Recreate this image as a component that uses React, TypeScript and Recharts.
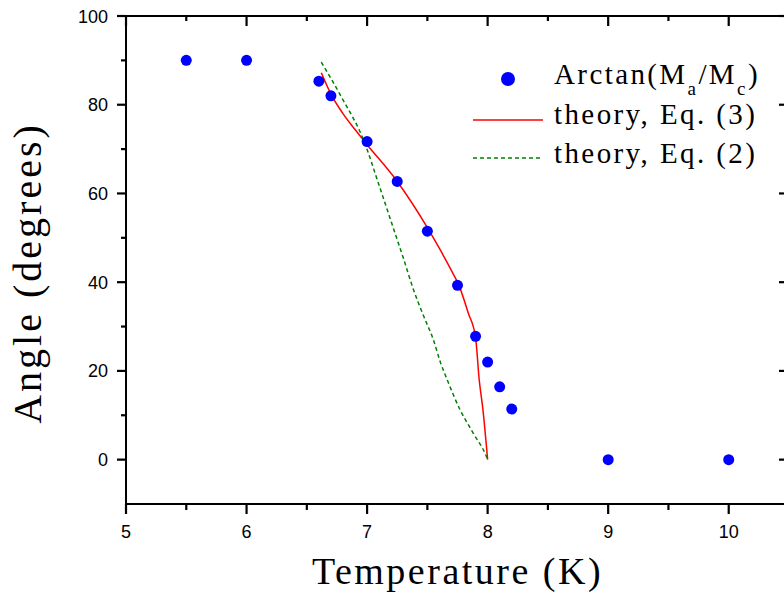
import React from "react";
import {
  ComposedChart,
  Scatter,
  Line,
  XAxis,
  YAxis,
  Legend,
} from "recharts";

// measured points: Arctan(Ma/Mc)
const tempK = [5.5, 6, 6.6, 6.7, 7, 7.25, 7.5, 7.75, 7.9, 8, 8.1, 8.2, 9, 10];
const angleDeg = [90, 90, 85.3, 82, 71.7, 62.7, 51.5, 39.3, 27.8, 22, 16.4, 11.4, 0, 0];

// theory, Eq. (3)
const eq3T = [6.62, 6.7, 6.8, 6.9, 7.0, 7.25, 7.5, 7.6, 7.7, 7.76, 7.84, 7.9, 7.93, 7.96, 8.0];
const eq3A = [87.2, 82.4, 78.0, 74.4, 71.0, 62.7, 52.3, 47.6, 42.6, 39.4, 33.0, 27.5, 18.0, 11.5, 0];

// theory, Eq. (2)
const eq2T = [6.62, 6.8, 6.97, 7.1, 7.22, 7.3, 7.385, 7.47, 7.55, 7.61, 7.66, 7.77, 7.88, 7.99, 8.0];
const eq2A = [89.6, 81.1, 72.1, 61.8, 52.0, 45.5, 38.3, 32.3, 27.0, 21.8, 18.3, 11.3, 6.0, 0.7, 0];

const xMajor = [5, 6, 7, 8, 9, 10];
const xMinor = [5.5, 6.5, 7.5, 8.5, 9.5];
const yMajor = [0, 20, 40, 60, 80, 100];
const yMinor = [10, 30, 50, 70, 90];

const points = tempK.map((t, i) => ({ x: t, y: angleDeg[i] }));
const eq3 = eq3T.map((t, i) => ({ x: t, y: eq3A[i] }));
const eq2 = eq2T.map((t, i) => ({ x: t, y: eq2A[i] }));

const xTicks = [...xMajor, ...xMinor].sort((a, b) => a - b);
const yTicks = [...yMajor, ...yMinor].sort((a, b) => a - b);

const SANS = "'Liberation Sans', Arial, sans-serif";
const SERIF = "'Liberation Serif', 'Times New Roman', serif";

const X_DOMAIN: [number, number] = [5, 10.5];
const Y_DOMAIN: [number, number] = [-10, 100];
const axisStroke = { stroke: "#000", strokeWidth: 2 };
// axes need a non-zero size to be drawn; keep it tiny so they sit on the frame
const THIN = 0.01;
const TICK_W = 2.2;

// tick marks are drawn as filled rects, labels only on major ticks
const BottomTick = (props: any) => {
  const { x, y, payload } = props;
  const major = xMajor.includes(payload.value);
  const len = major ? 10 : 6;
  return (
    <g>
      <rect x={x - TICK_W / 2} y={y} width={TICK_W} height={len} fill="#000" />
      {major && (
        <text x={x} y={y + 34} textAnchor="middle" fontFamily={SANS} fontSize={18} fill="#000">
          {payload.value}
        </text>
      )}
    </g>
  );
};

const TopTick = (props: any) => {
  const { x, y, payload } = props;
  const len = xMajor.includes(payload.value) ? 10 : 5;
  return <rect x={x - TICK_W / 2} y={y} width={TICK_W} height={len} fill="#000" />;
};

const LeftTick = (props: any) => {
  const { x, y, payload } = props;
  const major = yMajor.includes(payload.value);
  const len = major ? 9 : 5;
  return (
    <g>
      <rect x={x - len} y={y - TICK_W / 2} width={len} height={TICK_W} fill="#000" />
      {major && (
        <text x={x - 18} y={y + 6.5} textAnchor="end" fontFamily={SANS} fontSize={18} fill="#000">
          {payload.value}
        </text>
      )}
    </g>
  );
};

const RightTick = (props: any) => {
  const { x, y, payload } = props;
  const len = yMajor.includes(payload.value) ? 10 : 5;
  return <rect x={x - len} y={y - TICK_W / 2} width={len} height={TICK_W} fill="#000" />;
};

const Dot = (props: any) => <circle cx={props.cx} cy={props.cy} r={5.5} fill="#0000ff" />;

const legendText = { fontFamily: SERIF, fontSize: 29, letterSpacing: 2.4, fill: "#000" };

const LegendBox = () => (
  <svg width={320} height={130} style={{ display: "block" }}>
    <circle cx={48} cy={29} r={7} fill="#0000ff" />
    <text x={94} y={34} {...legendText}>
      Arctan(M
      <tspan dy={11} fontSize={19}>a</tspan>
      <tspan dy={-11}>/M</tspan>
      <tspan dy={11} fontSize={19}>c</tspan>
      <tspan dy={-11}>)</tspan>
    </text>
    <line x1={13} x2={83} y1={70} y2={70} stroke="#ff0000" strokeWidth={1.5} />
    <text x={94} y={74} {...legendText}>theory, Eq. (3)</text>
    <line x1={13} x2={83} y1={108} y2={108} stroke="#008000" strokeWidth={1.5} strokeDasharray="4 3" />
    <text x={94} y={113} {...legendText}>theory, Eq. (2)</text>
  </svg>
);

const XLabel = (props: any) => {
  const { x, y, width } = props.viewBox;
  return (
    <text x={x + width / 2} y={y + 80} textAnchor="middle" fontFamily={SERIF} fontSize={38} letterSpacing={2.5} fill="#000">
      Temperature (K)
    </text>
  );
};

const YLabel = (props: any) => {
  const { y, height } = props.viewBox;
  const cy = y + height / 2 + 13;
  return (
    <text
      x={41}
      y={cy}
      transform={`rotate(-90, 41, ${cy})`}
      textAnchor="middle"
      fontFamily={SERIF}
      fontSize={40}
      letterSpacing={3}
      fill="#000"
    >
      Angle (degrees)
    </text>
  );
};

export default function App() {
  return (
    <div style={{ position: "absolute", left: 0, top: 0, width: 784, height: 599, overflow: "hidden", background: "#fff" }}>
      <ComposedChart width={800} height={599} margin={{ top: 16, right: 11, left: 126, bottom: 95 }}>
        <XAxis xAxisId="b" type="number" dataKey="x" domain={X_DOMAIN} allowDataOverflow ticks={xTicks} interval={0}
          height={THIN} tickSize={0} tickMargin={0} tickLine={false} axisLine={axisStroke}
          tick={BottomTick} label={<XLabel />} />
        <XAxis xAxisId="t" orientation="top" type="number" dataKey="x" domain={X_DOMAIN} allowDataOverflow
          ticks={xTicks} interval={0} height={THIN} tickSize={0} tickMargin={0} tickLine={false}
          axisLine={axisStroke} tick={TopTick} />
        <YAxis yAxisId="l" type="number" dataKey="y" domain={Y_DOMAIN} allowDataOverflow ticks={yTicks} interval={0}
          width={THIN} tickSize={0} tickMargin={0} tickLine={false} axisLine={axisStroke}
          tick={LeftTick} label={<YLabel />} />
        <YAxis yAxisId="r" orientation="right" type="number" dataKey="y" domain={Y_DOMAIN} allowDataOverflow
          ticks={yTicks} interval={0} width={THIN} tickSize={0} tickMargin={0} tickLine={false}
          axisLine={axisStroke} tick={RightTick} />
        <Line
          xAxisId="b"
          yAxisId="l"
          data={eq3}
          dataKey="y"
          type="monotoneX"
          stroke="#ff0000"
          strokeWidth={1.5}
          dot={false}
          isAnimationActive={false}
        />
        <Line
          xAxisId="b"
          yAxisId="l"
          data={eq2}
          dataKey="y"
          type="monotoneX"
          stroke="#008000"
          strokeWidth={1.5}
          strokeDasharray="4 3"
          dot={false}
          isAnimationActive={false}
        />
        <Scatter
          xAxisId="b"
          yAxisId="l"
          data={points}
          dataKey="y"
          shape={Dot}
          isAnimationActive={false}
        />
        <Legend
          layout="vertical"
          align="center"
          verticalAlign="middle"
          content={<LegendBox />}
          wrapperStyle={{ position: "absolute", left: 460, top: 50, width: 320, height: 130 }}
        />
      </ComposedChart>
    </div>
  );
}
